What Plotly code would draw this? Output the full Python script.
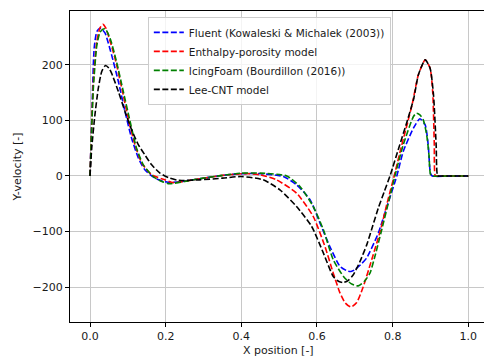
import plotly.graph_objects as go

# Fluent (Kowaleski & Michalek (2003))
fluent_x = [0, 0.005, 0.011, 0.018, 0.026, 0.033, 0.040, 0.057, 0.075, 0.0925, 0.110, 0.128, 0.145,
            0.172, 0.203, 0.23, 0.29, 0.35, 0.40, 0.45, 0.511, 0.546, 0.582, 0.608, 0.634, 0.661,
            0.68, 0.69, 0.70, 0.715, 0.731, 0.762, 0.785, 0.811, 0.828, 0.855, 0.872, 0.886,
            0.894, 0.900, 0.905, 0.95, 1.0]
fluent_y = [0, 110, 230, 260, 266, 263, 257, 218, 170, 116, 68, 32, 11,
            -4, -11, -11, -5, 1, 4, 4, -1, -16, -43, -85, -127, -163,
            -171, -172, -169, -160, -148, -103, -55, 0, 44, 86, 103, 92,
            56, 5, 0, 0, 0]

# Enthalpy-porosity model
enth_x = [0, 0.009, 0.018, 0.026, 0.034, 0.042, 0.048, 0.066, 0.084, 0.101, 0.119, 0.137, 0.163,
          0.198, 0.22, 0.29, 0.35, 0.40, 0.423, 0.45, 0.493, 0.546, 0.590, 0.621, 0.643, 0.661,
          0.675, 0.69, 0.705, 0.722, 0.745, 0.767, 0.785, 0.804, 0.822, 0.841, 0.852, 0.868,
          0.886, 0.899, 0.906, 0.910, 0.913, 0.92, 0.95, 1.0]
enth_y = [0, 170, 242, 266, 273, 266, 254, 212, 158, 104, 56, 23, 2,
          -7, -12, -5, 1, 4, 4, 2, -7, -31, -73, -127, -175, -211,
          -229, -236, -228, -200, -150, -100, -50, 0, 50, 100, 130, 182,
          209, 194, 150, 60, 0, 0, 0, 0]

# IcingFoam (Bourdillon (2016))
icing_x = [0, 0.009, 0.018, 0.026, 0.033, 0.040, 0.053, 0.070, 0.088, 0.106, 0.123, 0.141, 0.167,
           0.19, 0.21, 0.25, 0.29, 0.35, 0.40, 0.45, 0.52, 0.555, 0.590, 0.617, 0.643, 0.670,
           0.690, 0.709, 0.725, 0.740, 0.755, 0.770, 0.790, 0.806, 0.828, 0.855, 0.863, 0.872,
           0.881, 0.890, 0.896, 0.900, 0.905, 0.95, 1.0]
icing_y = [0, 160, 235, 258, 264, 265, 248, 206, 152, 98, 50, 20, -1,
           -10, -14, -10, -5, 1, 5, 5, 0, -19, -55, -97, -151, -181,
           -194, -198, -190, -175, -140, -100, -45, 0, 56, 107, 113, 110,
           101, 74, 38, 3, 0, 0, 0]

# Lee-CNT model
lee_x = [0, 0.0045, 0.013, 0.022, 0.031, 0.041, 0.050, 0.057, 0.075, 0.0925, 0.110, 0.128, 0.145,
         0.163, 0.185, 0.211, 0.235, 0.29, 0.35, 0.40, 0.458, 0.502, 0.546, 0.586, 0.617, 0.643,
         0.658, 0.670, 0.683, 0.696, 0.713, 0.731, 0.745, 0.762, 0.778, 0.793, 0.816, 0.839,
         0.856, 0.868, 0.886, 0.899, 0.908, 0.915, 0.919, 0.925, 0.95, 1.0]
lee_y = [0, 50, 110, 158, 188, 199, 194, 185, 152, 116, 83, 56, 38,
         20, 5, -4, -8, -7, -4, -1, -7, -25, -55, -91, -139, -181,
         -190, -192, -188, -178, -155, -125, -95, -58, -28, 0, 50, 100,
         140, 182, 209, 194, 146, 56, 0, 0, 0, 0]

series = [
    ("Fluent (Kowaleski & Michalek (2003))", fluent_x, fluent_y, "#0000ff"),
    ("Enthalpy-porosity model", enth_x, enth_y, "#ff0000"),
    ("IcingFoam (Bourdillon (2016))", icing_x, icing_y, "#008000"),
    ("Lee-CNT model", lee_x, lee_y, "#000000"),
]

FONT = "DejaVu Sans"
FS = 11
fig = go.Figure()
for name, xs, ys, col in series:
    fig.add_trace(go.Scatter(
        x=xs, y=ys, mode="lines", name=name,
        line=dict(color=col, width=1.6, dash="6px,2.5px", shape="spline", smoothing=0.6),
    ))

fig.update_layout(
    width=484, height=358,
    margin=dict(l=70, r=0, t=11, b=36),
    paper_bgcolor="white", plot_bgcolor="white",
    font=dict(family=FONT, size=FS, color="#1a1a1a"),
    showlegend=True,
    legend=dict(
        x=0.188, y=0.981, xanchor="left", yanchor="top",
        bgcolor="rgba(255,255,255,0.8)", bordercolor="#cccccc", borderwidth=1,
        font=dict(family=FONT, size=10.5, color="#1a1a1a"),
        tracegroupgap=0,
    ),
    annotations=[dict(
        text="X position [-]", xref="paper", yref="paper", x=0.5036, y=0,
        xanchor="center", yanchor="middle", yshift=-28, showarrow=False,
        font=dict(family=FONT, size=FS, color="#1a1a1a"),
    )],
)
fig.update_xaxes(
    range=[-0.0529, 1.0415], tickvals=[0, 0.2, 0.4, 0.6, 0.8, 1.0], tickformat=".1f",
    showgrid=True, gridcolor="#c8c8c8", gridwidth=1,
    showline=True, linecolor="black", linewidth=1, mirror=True,
    ticks="outside", ticklen=4, tickcolor="black",
    zeroline=False,
)
fig.update_yaxes(
    range=[-263, 297], tickvals=[-200, -100, 0, 100, 200],
    showgrid=True, gridcolor="#c8c8c8", gridwidth=1,
    showline=True, linecolor="black", linewidth=1, mirror=False,
    ticks="outside", ticklen=4, tickcolor="black",
    zeroline=False,
    title=dict(text="Y-velocity [-]", standoff=8, font=dict(family=FONT, size=FS)),
)

fig.write_html("out.html")
